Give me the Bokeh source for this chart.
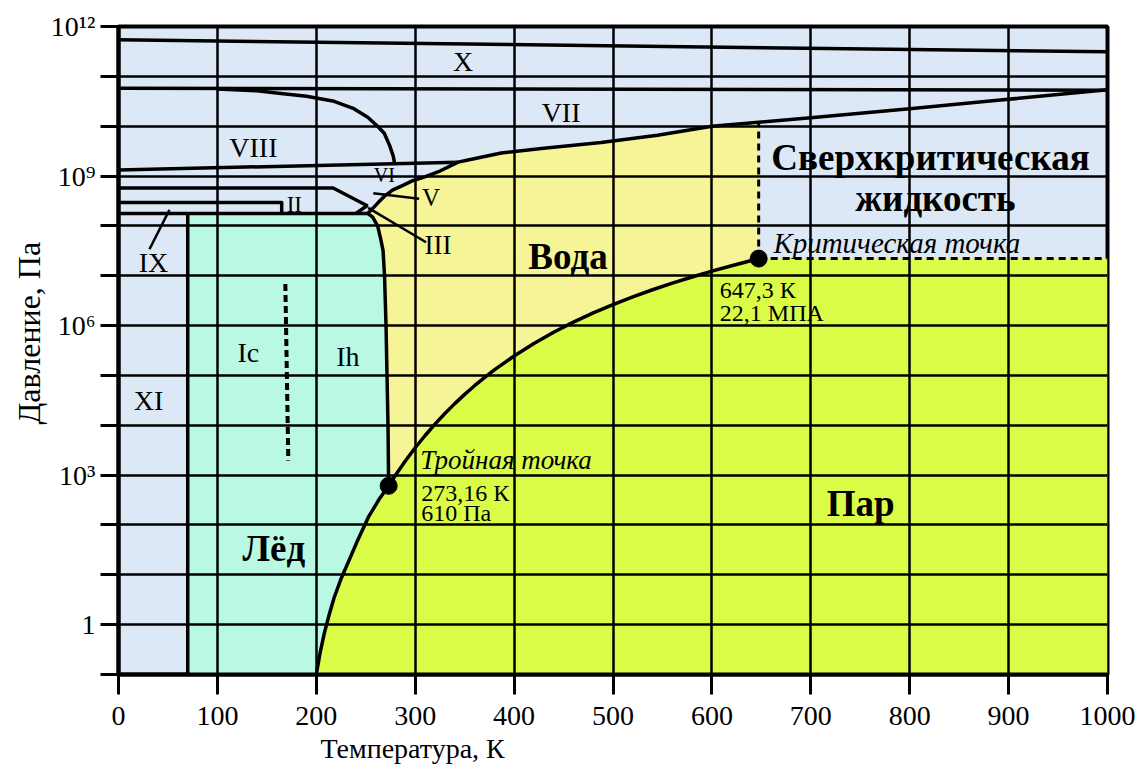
import numpy as np
from bokeh.plotting import figure
from bokeh.models import FixedTicker, CustomJSTickFormatter, Label, Title
from bokeh.embed import file_html
from bokeh.resources import INLINE

SERIF = "Liberation Serif"

# ---------------- data (T in K, P in Pa) ----------------
# sublimation curve (ice Ih - vapour)
subl_T = [200.0, 204.0, 208.0, 213.0, 218.0, 225.0, 232.0, 242.0, 252.5, 263.0, 273.16]
subl_P = [0.1, 0.282, 0.661, 1.585, 3.467, 8.318, 17.38, 50.1, 141.3, 316.0, 610.0]

# vaporization curve (water - vapour), triple point -> critical point
vap_T = [273.16, 280, 290, 300, 310, 320, 330, 340, 350, 360, 370, 380, 400, 420, 440,
         460, 480, 500, 520, 540, 560, 580, 600, 620, 640, 647.3]
vap_P = [610.0, 991.0, 1919.0, 3536.0, 6231.0, 1.055e4, 1.721e4, 2.719e4, 4.168e4, 6.219e4,
         9.054e4, 1.289e5, 2.458e5, 4.372e5, 7.335e5, 1.171e6, 1.791e6, 2.639e6, 3.769e6,
         5.237e6, 7.106e6, 9.448e6, 1.2345e7, 1.590e7, 2.027e7, 2.21e7]

# melting curve of ice Ih (from triple point upward)
meltIh_T = [273.16, 272.5, 271.5, 270.5, 269.0, 267.5, 265.0, 262.0, 257.0, 252.0]
meltIh_P = [610.0, 1.0e4, 1.0e5, 1.0e6, 1.0e7, 3.2e7, 5.6e7, 1.0e8, 1.5e8, 1.78e8]

# melting curves of ices III, V, VI
meltHi_T = [252.0, 257.6, 263.0, 268.7, 277.0, 286.0, 297.0, 309.0, 325.0, 343.4]
meltHi_P = [1.78e8, 2.3e8, 3.0e8, 3.9e8, 5.2e8, 6.3e8, 8.0e8, 9.5e8, 1.26e9, 1.9e9]

# melting curve of ice VII
meltVII_T = [343.4, 353.5, 387.0, 430.0, 488.0, 545.0, 600.0, 647.3, 700.0, 800.0, 889.0, 1000.0]
meltVII_P = [1.9e9, 2.1e9, 2.9e9, 3.6e9, 4.7e9, 6.6e9, 1.0e10, 1.2e10, 1.48e10, 2.24e10, 3.3e10, 5.4e10]

# boundaries between ice phases
lineX_T = [0.0, 1000.0];               lineX_P = [5.4e11, 3.1e11]
lineXVII_T = [0.0, 1000.0];            lineXVII_P = [5.75e10, 5.25e10]
lineVIII_T = [100.0, 140.0, 162.0, 190.0, 218.0, 238.0, 252.0, 262.0, 268.7, 274.0, 277.8, 279.0]
lineVIII_P = [5.56e10, 5.13e10, 4.57e10, 3.98e10, 3.16e10, 2.24e10, 1.51e10, 1.0e10,
              7.24e9, 4.17e9, 2.51e9, 1.86e9]
lineVIIIb_T = [0.0, 343.4];            lineVIIIb_P = [1.32e9, 1.9e9]
lineII_T = [0.0, 217.0, 252.0];        lineII_P = [5.75e8, 5.75e8, 2.5e8]
lineIX_T = [0.0, 165.0, 165.0];        lineIX_P = [2.95e8, 2.95e8, 1.78e8]
lineIh_T = [0.0, 252.0];               lineIh_P = [1.78e8, 1.78e8]
lineIII_T = [240.0, 252.0];            lineIII_P = [1.78e8, 2.6e8]
lineXI_T = [70.0, 70.0];               lineXI_P = [0.1, 1.78e8]

# pointer lines for small labels
ptrIX_T = [31.3, 51.5];   ptrIX_P = [3.4e7, 2.1e8]
ptrV_T = [257.6, 304.0];  ptrV_P = [4.5e8, 3.5e8]
ptrIII_T = [252.5, 311.0]; ptrIII_P = [2.3e8, 4.7e7]

# Ic / Ih dashed separator
dashIc_T = [168.7, 171.7]; dashIc_P = [6.8e6, 1.95e3]

# special points
triple = (273.16, 610.0)
critical = (647.3, 2.21e7)

T_MAX = 1000.0
P_MIN = 0.1
P_MAX = 1e12

# colours
C_ICE = "#DCE8F5"
C_IH = "#B9F8E2"
C_WATER = "#F5F598"
C_VAPOUR = "#DAFC47"

# ---------------- figure ----------------
p = figure(width=1143, height=776, x_range=(0, T_MAX), y_range=(P_MIN, P_MAX),
           y_axis_type="log", output_backend="svg", toolbar_location=None,
           min_border_left=118, min_border_top=26, min_border_right=36, min_border_bottom=102)
p.background_fill_color = C_ICE
p.border_fill_color = "white"
p.outline_line_color = "black"
p.outline_line_width = 4

# regions
vT = np.array(vap_T); vP = np.array(vap_P)
sT = np.array(subl_T); sP = np.array(subl_P)
vapour_x = list(sT) + list(vT[1:]) + [T_MAX, T_MAX]
vapour_y = list(sP) + list(vP[1:]) + [critical[1], P_MIN]
p.patch(vapour_x, vapour_y, fill_color=C_VAPOUR, line_color=None, level="image")

ihx = [lineXI_T[0], lineXI_T[1]] + meltIh_T[::-1] + subl_T[::-1]
ihy = [lineXI_P[0], lineXI_P[1]] + meltIh_P[::-1] + subl_P[::-1]
p.patch(ihx, ihy, fill_color=C_IH, line_color=None, level="image")

mVT = np.array(meltVII_T); mVP = np.array(meltVII_P)
keep = mVT <= critical[0]
water_x = meltIh_T + meltHi_T[1:] + list(mVT[keep][1:]) + list(vT[::-1])
water_y = meltIh_P + meltHi_P[1:] + list(mVP[keep][1:]) + list(vP[::-1])
p.patch(water_x, water_y, fill_color=C_WATER, line_color=None, level="image")

# grid
p.xgrid.ticker = FixedTicker(ticks=list(range(0, 1001, 100)))
p.ygrid.ticker = FixedTicker(ticks=[10.0 ** k for k in range(-1, 13)])
for g in (p.xgrid, p.ygrid):
    g.grid_line_color = "black"
    g.grid_line_width = 2.5
    g.grid_line_alpha = 1.0

# phase lines
LW = 3.5
for xs, ys in [(lineX_T, lineX_P), (lineXVII_T, lineXVII_P), (lineVIII_T, lineVIII_P),
               (lineVIIIb_T, lineVIIIb_P), (lineII_T, lineII_P), (lineIX_T, lineIX_P),
               (lineIh_T, lineIh_P), (lineIII_T, lineIII_P), (lineXI_T, lineXI_P),
               (meltIh_T + meltHi_T[1:] + meltVII_T[1:], meltIh_P + meltHi_P[1:] + meltVII_P[1:]),
               (subl_T + vap_T[1:], subl_P + vap_P[1:])]:
    p.line(xs, ys, line_color="black", line_width=LW, line_join="round")

for xs, ys in [(ptrIX_T, ptrIX_P), (ptrV_T, ptrV_P), (ptrIII_T, ptrIII_P)]:
    p.line(xs, ys, line_color="black", line_width=2.5)

p.line(dashIc_T, dashIc_P, line_color="black", line_width=4, line_dash="7 4")
p.line([critical[0], critical[0]], [critical[1], meltVII_P[meltVII_T.index(647.3)]],
       line_color="black", line_width=3, line_dash="7 5")
p.line([critical[0], T_MAX], [critical[1], critical[1]],
       line_color="black", line_width=3, line_dash="7 5")

p.scatter([triple[0], critical[0]], [triple[1], critical[1]], size=17, color="black")

# ---------------- axes ----------------
p.xaxis.ticker = FixedTicker(ticks=list(range(0, 1001, 100)), minor_ticks=[])
p.yaxis.ticker = FixedTicker(ticks=[10.0 ** k for k in range(-1, 13)], minor_ticks=[])
p.yaxis.formatter = CustomJSTickFormatter(code="""
const e = Math.round(Math.log10(tick));
const m = {0: "1", 3: "10\u00b3", 6: "10\u2076", 9: "10\u2079", 12: "10\u00b9\u00b2"};
return (e in m) ? m[e] : "";
""")
for ax in (p.xaxis[0], p.yaxis[0]):
    ax.axis_line_width = 4
    ax.major_tick_line_width = 3
    ax.major_tick_in = 0
    ax.major_label_text_font = SERIF
    ax.major_label_text_font_size = "28px"
    ax.major_label_text_color = "black"
    ax.minor_tick_line_color = None
p.xaxis.major_tick_out = 20
p.yaxis.major_tick_out = 18
p.xaxis.major_label_standoff = 12
p.yaxis.major_label_standoff = 5

# axis titles (both placed off-centre, as in the original)
xt = Title(text="Температура, К", align="left", offset=202, standoff=6,
           text_font=SERIF, text_font_size="28px", text_font_style="normal", text_color="black")
p.add_layout(xt, "below")
yt = Title(text="Давление, Па", align="left", offset=250, standoff=2,
           text_font=SERIF, text_font_size="32px", text_font_style="normal", text_color="black")
p.add_layout(yt, "left")

# ---------------- texts ----------------
def lab(x, y, text, size, style="normal", align="center"):
    p.add_layout(Label(x=x, y=y, text=text, text_font=SERIF, text_font_size=size,
                       text_font_style=style, text_align=align, text_baseline="middle",
                       text_color="black"))

lab(348.5, 10 ** 11.29, "X", "28px")
lab(447.5, 10 ** 10.28, "VII", "28px")
lab(136.4, 10 ** 9.58, "VIII", "28px")
lab(268.7, 10 ** 9.02, "VI", "20px")
lab(316.0, 10 ** 8.57, "V", "25px")
lab(177.8, 10 ** 8.43, "II", "23px")
lab(323.0, 10 ** 7.61, "III", "27px")
lab(35.4, 10 ** 7.27, "IX", "28px")
lab(30.3, 10 ** 4.5, "XI", "28px")
lab(131.3, 10 ** 5.46, "Ic", "28px")
lab(232.0, 10 ** 5.37, "Ih", "28px")
lab(454.5, 10 ** 7.39, "Вода", "37px", "bold")
lab(821.0, 10 ** 9.38, "Сверхкритическая", "37px", "bold")
lab(826.0, 10 ** 8.55, "жидкость", "37px", "bold")
lab(787.0, 10 ** 7.65, "Критическая точка", "29px", "italic")
lab(608.0, 10 ** 6.71, "647,3 К", "24px", align="left")
lab(608.0, 10 ** 6.25, "22,1 МПА", "24px", align="left")
lab(305.0, 10 ** 3.30, "Тройная точка", "27px", "italic", align="left")
lab(306.0, 10 ** 2.65, "273,16 К", "24px", align="left")
lab(306.0, 10 ** 2.23, "610 Па", "24px", align="left")
lab(750.5, 10 ** 2.43, "Пар", "37px", "bold")
lab(157.0, 10 ** 1.53, "Лёд", "37px", "bold")

open("out.html", "w").write(file_html(p, INLINE))
